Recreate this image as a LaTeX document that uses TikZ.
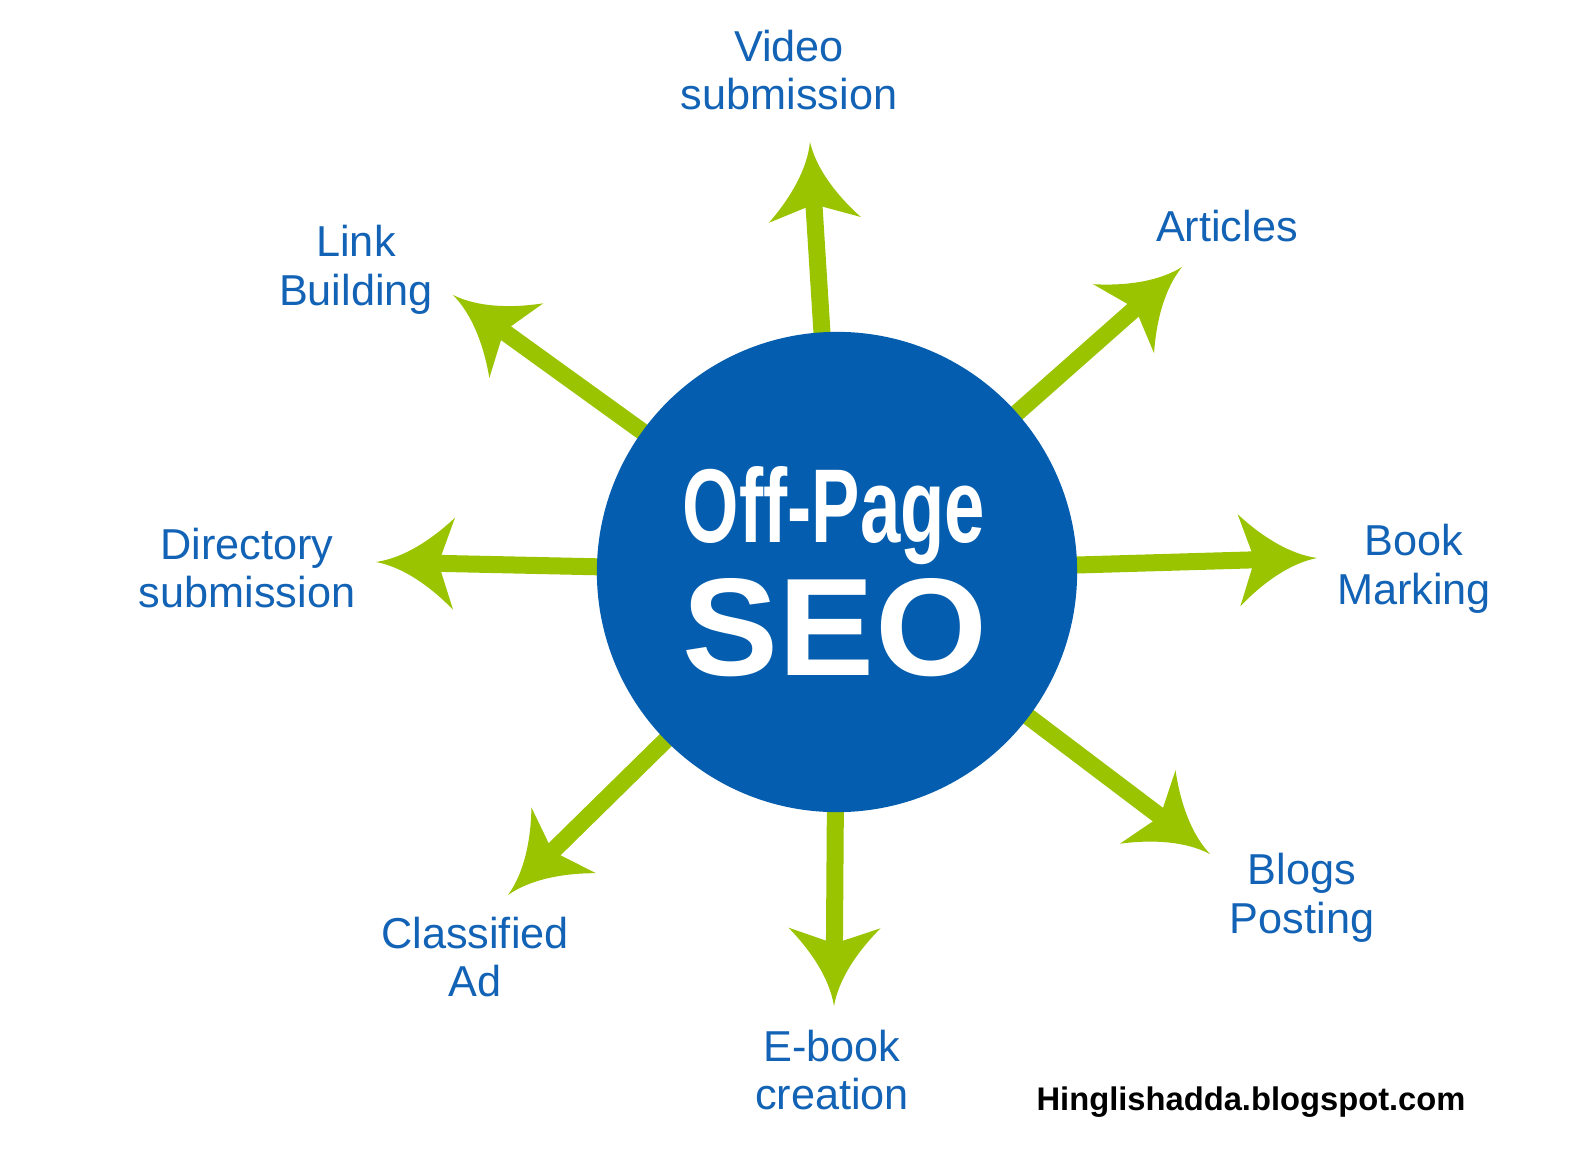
\documentclass[tikz,border=0pt]{standalone}
\usepackage{fontspec}
\usepackage{graphicx}
\setmainfont{Liberation Sans}
\usepackage{tikz}
\usetikzlibrary{arrows.meta, backgrounds}

\definecolor{seoblue}{HTML}{045DAE}
\definecolor{labelblue}{HTML}{1262B5}
\definecolor{spokegreen}{HTML}{9BC400}

% arrow head with hollow (concave) sides
\pgfdeclarearrow{
	name = Leaf,
	defaults = {length = 0.78cm, width = 0.92cm},
	setup code = {
		\pgfarrowssettipend{0pt}
		\pgfarrowssetlineend{-0.75\pgfarrowlength}
		\pgfarrowssetvisualbackend{-\pgfarrowlength}
		\pgfarrowssetbackend{-\pgfarrowlength}
		\pgfarrowshullpoint{0pt}{0pt}
		\pgfarrowsupperhullpoint{-\pgfarrowlength}{.5\pgfarrowwidth}
		\pgfarrowssavethe\pgfarrowlength
		\pgfarrowssavethe\pgfarrowwidth
	},
	drawing code = {
		\pgfpathmoveto{\pgfpointorigin}
		\pgfpathcurveto{\pgfpoint{-.35\pgfarrowlength}{.05\pgfarrowwidth}}{\pgfpoint{-.7\pgfarrowlength}{.25\pgfarrowwidth}}{\pgfpoint{-\pgfarrowlength}{.5\pgfarrowwidth}}
		\pgfpathcurveto{\pgfpoint{-.92\pgfarrowlength}{.3\pgfarrowwidth}}{\pgfpoint{-.84\pgfarrowlength}{.1\pgfarrowwidth}}{\pgfpoint{-.8\pgfarrowlength}{0pt}}
		\pgfpathcurveto{\pgfpoint{-.84\pgfarrowlength}{-.1\pgfarrowwidth}}{\pgfpoint{-.92\pgfarrowlength}{-.3\pgfarrowwidth}}{\pgfpoint{-\pgfarrowlength}{-.5\pgfarrowwidth}}
		\pgfpathcurveto{\pgfpoint{-.7\pgfarrowlength}{-.25\pgfarrowwidth}}{\pgfpoint{-.35\pgfarrowlength}{-.05\pgfarrowwidth}}{\pgfpointorigin}
		\pgfpathclose
		\pgfusepathqfill
	},
	parameters = {\the\pgfarrowlength,\the\pgfarrowwidth},
}

\begin{document}
\begin{tikzpicture}[
	x=0.01cm, y=-0.01cm,
	hubnode/.style={circle, fill=seoblue, minimum size=4.8cm, inner sep=0pt},
	label/.style={text=labelblue, align=center, font=\fontsize{12.3}{13.8}\selectfont},
	spoke/.style={-{Leaf[length=0.78cm, width=0.92cm]}, line width=0.17cm, draw=spokegreen, fill=spokegreen}
	]
	
	\useasboundingbox (0,0) rectangle (1594,1152);
	
	\node[hubnode] (hub) at (837,572) {};
	\node[text=white, anchor=base] (offpage) at (834,542) {\resizebox{3.02cm}{0.76cm}{\bfseries Off-Page}};
	\node[text=white] (seo) at (835,628) {\resizebox{3.04cm}{0.97cm}{\bfseries SEO}};
	
	\coordinate (tipvid) at (810,142);
	\coordinate (tipart) at (1182,267);
	\coordinate (tipbook) at (1317,558);
	\coordinate (tipblog) at (1210,854);
	\coordinate (tipebook) at (834,1006);
	\coordinate (tipclass) at (508,895);
	\coordinate (tipdir) at (376,562);
	\coordinate (tiplink) at (453,295);
	
	\node[label] (vid) at (789,70) {Video\\submission};
	\node[label] (art) at (1227,226) {Articles};
	\node[label] (book) at (1414,569) {Book\\Marking};
	\node[label] (blog) at (1302,898) {Blogs\\Posting};
	\node[label] (ebook) at (832,1070) {E-book\\creation};
	\node[label] (class) at (475,957) {Classified\\Ad};
	\node[label] (dir) at (247,568) {Directory\\submission};
	\node[label] (link) at (356,270) {Link\\Building};
	
	\node[anchor=base, font=\fontsize{9.3}{11}\selectfont\bfseries] (site) at (1251,1110) {Hinglishadda.blogspot.com};
	
	\begin{scope}[on background layer]
		\fill[white] (0,0) rectangle (1594,1152);
		\draw[spoke] (hub.center) -- (tipvid);
		\draw[spoke] (hub.center) -- (tipart);
		\draw[spoke] (hub.center) -- (tipbook);
		\draw[spoke] (hub.center) -- (tipblog);
		\draw[spoke] (hub.center) -- (tipebook);
		\draw[spoke] (hub.center) -- (tipclass);
		\draw[spoke] (hub.center) -- (tipdir);
		\draw[spoke] (hub.center) -- (tiplink);
	\end{scope}
	
\end{tikzpicture}
\end{document}
